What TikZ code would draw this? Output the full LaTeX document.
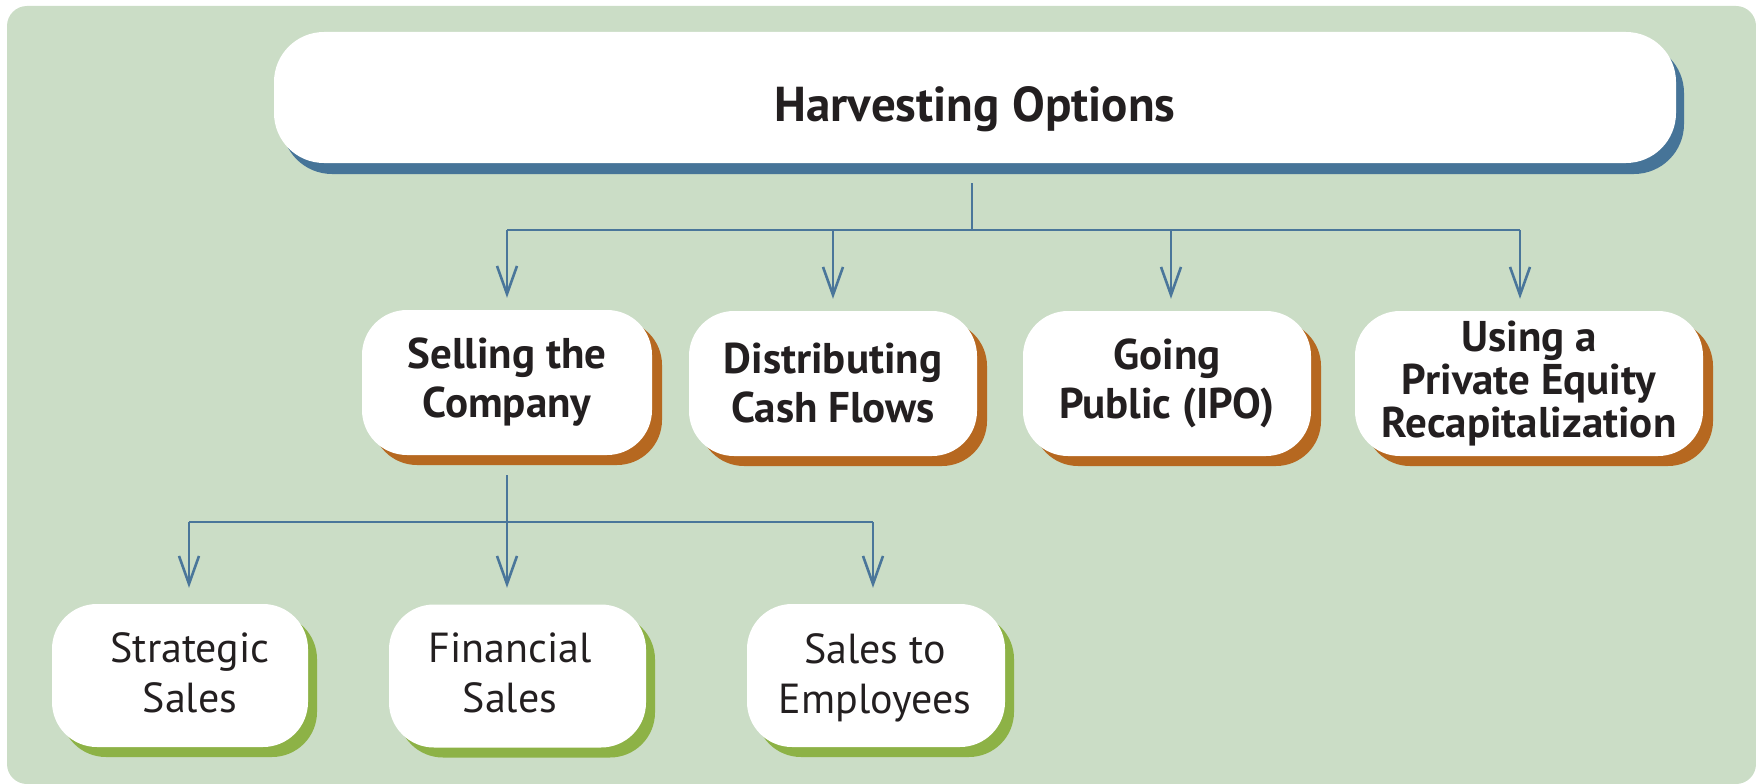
\documentclass[tikz,border=0pt]{standalone}
\usepackage{fontspec}
\setmainfont{PT Sans}
\usetikzlibrary{arrows.meta,shadows}
\definecolor{bg}{RGB}{203,221,198}
\definecolor{linkblue}{RGB}{74,118,154}
\definecolor{titleshadow}{RGB}{70,116,152}
\definecolor{rust}{RGB}{182,104,32}
\definecolor{leaf}{RGB}{141,178,70}
\definecolor{ink}{RGB}{35,31,32}
\begin{document}
\begin{tikzpicture}[x=1pt,y=-1pt,
  titlebox/.style={fill=white, rounded corners=50pt, minimum width=1402pt,
    minimum height=131pt, inner sep=0pt, text=ink,
    general shadow={fill=titleshadow, shadow xshift=8pt, shadow yshift=-11pt}},
  titletext/.style={inner sep=0pt, text=ink, text depth=0pt,
    font=\fontsize{49}{58}\selectfont\bfseries},
  optbox/.style={fill=white, rounded corners=45pt, minimum width=#1,
    minimum height=145pt, inner sep=0pt, align=center, text=ink,
    font=\fontsize{43}{49}\selectfont\bfseries,
    general shadow={fill=rust, shadow xshift=10pt, shadow yshift=-10pt}},
  optbox/.default=290pt,
  salebox/.style={fill=white, rounded corners=45pt, minimum width=#1,
    minimum height=143pt, inner sep=0pt,
    general shadow={fill=leaf, shadow xshift=9pt, shadow yshift=-10pt}},
  salebox/.default=257pt,
  saletext/.style={inner sep=0pt, align=center, text=ink,
    font=\fontsize{42}{50}\selectfont},
  conn/.style={draw=linkblue, line width=2.6pt},
  arr/.style={conn, -{Straight Barb[length=28pt,width=20pt]}}]

% canvas
\useasboundingbox (0,0) rectangle (1756,784);
\fill[bg, rounded corners=20pt] (7,6) rectangle (1756,784);

% top level
\node[titlebox] (title) at (975,97.5) {};
\node[titletext] (title-t) at (975,104) {Harvesting Options};

% harvesting options
\node[optbox] (sell) at (507,382.5) {Selling the\\Company};
\node[optbox=288pt] (dist) at (833,383.5) {Distributing\\Cash Flows};
\node[optbox=288pt] (ipo) at (1167,383.5) {Going\\Public (IPO)};
\node[optbox=348pt] (recap) at (1529,383.5) {Using a\\[-6pt]Private Equity\\[-6pt]Recapitalization};

% kinds of sale
\node[salebox=256pt] (strat) at (180,675.5) {};
\node[salebox] (fin) at (517.5,676) {};
\node[salebox=258pt] (emp) at (876,675.5) {};
\node[saletext] (strat-t) at (190,673) {Strategic\\Sales};
\node[saletext] (fin-t) at (510,673) {Financial\\Sales};
\node[saletext] (emp-t) at (875,678) {Sales to\\Employees};

% connectors from the title
\coordinate (j1) at (972,230);
\coordinate (t0) at ([yshift=-20pt]title.south);
\coordinate (r) at ([xshift=-9pt,yshift=12pt]recap.north);
\draw[conn] (t0 -| j1) -- (j1);
\draw[conn] (j1 -| sell) -- (j1 -| r);
\draw[arr] (j1 -| sell) -- ([yshift=12pt]sell.north);
\draw[arr] (j1 -| dist) -- ([yshift=12pt]dist.north);
\draw[arr] ([xshift=4pt]j1 -| ipo) -- ([xshift=4pt,yshift=12pt]ipo.north);
\draw[arr] (j1 -| r) -- (r);

% connectors from selling the company
\coordinate (j2) at (508,522);
\coordinate (s) at ([xshift=9pt,yshift=16pt]strat.north);
\coordinate (e) at ([xshift=-3pt,yshift=16pt]emp.north);
\draw[conn] (j2 -| s) -- (j2 -| e);
\draw[arr] ([yshift=-20pt]sell.south) -- (sell.south |- s);
\draw[arr] (j2 -| s) -- (s);
\draw[arr] (j2 -| e) -- (e);
\end{tikzpicture}
\end{document}
